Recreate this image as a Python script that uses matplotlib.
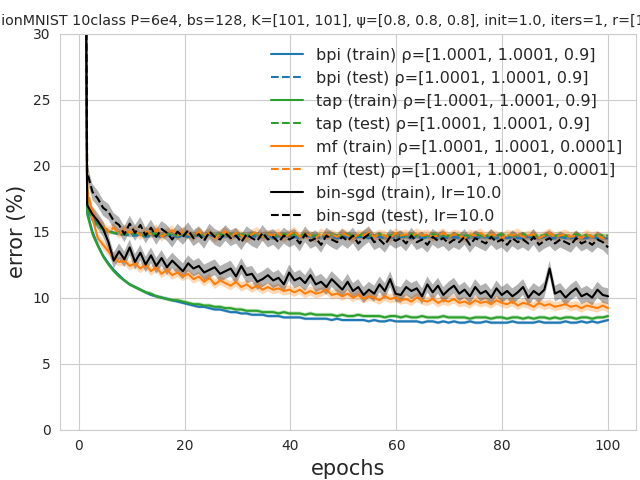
import numpy as np
import matplotlib
matplotlib.use("Agg")
import matplotlib.pyplot as plt
import seaborn as sns

# first logged point sits just right of 0, last one at epoch 100
epochs = np.linspace(0.6, 100, 100)

bpi_train = [90, 16.5, 15.0, 14.0, 13.2, 12.6, 12.1, 11.7, 11.3, 11.0,
             10.8, 10.6, 10.4, 10.2, 10.1, 10.0, 9.9, 9.8, 9.7, 9.6,
             9.5, 9.4, 9.3, 9.3, 9.2, 9.1, 9.1, 9.0, 8.9, 8.9,
             8.8, 8.8, 8.7, 8.7, 8.7, 8.6, 8.6, 8.6, 8.5, 8.5,
             8.5, 8.5, 8.4, 8.4, 8.4, 8.4, 8.4, 8.3, 8.4, 8.3,
             8.3, 8.3, 8.3, 8.3, 8.2, 8.3, 8.2, 8.2, 8.3, 8.2,
             8.2, 8.2, 8.2, 8.2, 8.1, 8.2, 8.2, 8.1, 8.2, 8.1,
             8.2, 8.1, 8.1, 8.2, 8.1, 8.1, 8.2, 8.1, 8.1, 8.1,
             8.1, 8.2, 8.1, 8.1, 8.1, 8.1, 8.2, 8.1, 8.1, 8.1,
             8.1, 8.2, 8.1, 8.1, 8.2, 8.1, 8.2, 8.1, 8.2, 8.3]
bpi_test = [90, 17.0, 16.0, 15.6, 15.3, 15.1, 14.9, 14.8, 14.8, 14.7,
            14.7, 14.8, 14.6, 14.7, 14.7, 14.6, 14.8, 14.7, 14.6, 14.7,
            14.6, 14.7, 14.7, 14.6, 14.8, 14.6, 14.7, 14.6, 14.7, 14.6,
            14.7, 14.6, 14.7, 14.6, 14.6, 14.7, 14.5, 14.6, 14.7, 14.6,
            14.6, 14.5, 14.7, 14.6, 14.6, 14.5, 14.7, 14.6, 14.5, 14.6,
            14.6, 14.5, 14.6, 14.6, 14.5, 14.7, 14.6, 14.5, 14.6, 14.5,
            14.6, 14.6, 14.5, 14.6, 14.5, 14.6, 14.6, 14.5, 14.6, 14.5,
            14.6, 14.5, 14.6, 14.5, 14.6, 14.5, 14.6, 14.5, 14.5, 14.6,
            14.5, 14.6, 14.5, 14.5, 14.6, 14.5, 14.5, 14.6, 14.5, 14.5,
            14.6, 14.5, 14.5, 14.6, 14.5, 14.5, 14.6, 14.5, 14.5, 14.5]
tap_train = [90, 16.3, 14.8, 13.9, 13.1, 12.5, 12.0, 11.6, 11.3, 11.0,
             10.8, 10.6, 10.4, 10.3, 10.1, 10.0, 9.9, 9.8, 9.8, 9.7,
             9.6, 9.5, 9.5, 9.4, 9.4, 9.3, 9.3, 9.2, 9.2, 9.1,
             9.1, 9.0, 9.0, 9.0, 8.9, 8.9, 8.9, 8.8, 8.9, 8.8,
             8.8, 8.8, 8.7, 8.8, 8.7, 8.7, 8.7, 8.7, 8.6, 8.7,
             8.6, 8.6, 8.7, 8.6, 8.6, 8.6, 8.6, 8.5, 8.6, 8.6,
             8.5, 8.6, 8.5, 8.5, 8.6, 8.5, 8.5, 8.5, 8.6, 8.5,
             8.5, 8.5, 8.5, 8.4, 8.5, 8.5, 8.5, 8.4, 8.5, 8.5,
             8.4, 8.5, 8.5, 8.4, 8.5, 8.4, 8.5, 8.5, 8.4, 8.5,
             8.4, 8.5, 8.5, 8.4, 8.5, 8.5, 8.4, 8.5, 8.5, 8.6]
tap_test = [90, 16.8, 15.9, 15.4, 15.2, 15.0, 14.9, 14.9, 14.8, 14.8,
            14.9, 14.8, 14.7, 14.9, 14.8, 14.7, 14.8, 14.8, 14.7, 14.8,
            14.8, 14.7, 14.8, 14.7, 14.9, 14.7, 14.8, 14.7, 14.8, 14.7,
            14.8, 14.7, 14.8, 14.8, 14.7, 14.8, 14.7, 14.7, 14.8, 14.7,
            14.8, 14.7, 14.8, 14.7, 14.7, 14.8, 14.7, 14.8, 14.7, 14.7,
            14.8, 14.7, 14.7, 14.8, 14.7, 14.7, 14.8, 14.7, 14.7, 14.8,
            14.7, 14.7, 14.8, 14.7, 14.7, 14.7, 14.8, 14.7, 14.7, 14.7,
            14.8, 14.7, 14.7, 14.7, 14.8, 14.7, 14.7, 14.7, 14.7, 14.8,
            14.7, 14.7, 14.7, 14.8, 14.7, 14.7, 14.7, 14.7, 14.8, 14.7,
            14.7, 14.7, 14.7, 14.8, 14.7, 14.7, 14.7, 14.7, 14.7, 14.7]
mf_train = [90, 18.0, 16.0, 14.5, 14.0, 13.5, 13.0, 12.7, 12.8, 12.4,
            12.6, 12.2, 12.5, 12.0, 12.3, 11.8, 12.1, 11.7, 11.9, 11.6,
            11.8, 11.4, 11.6, 11.2, 11.5, 11.0, 11.3, 11.1, 10.9, 11.2,
            10.8, 11.0, 10.7, 10.9, 10.6, 10.8, 10.6, 10.7, 10.5, 10.6,
            10.4, 10.6, 10.3, 10.5, 10.3, 10.4, 10.6, 10.2, 10.3, 10.1,
            10.3, 10.0, 10.2, 9.9, 10.1, 10.0, 9.8, 10.1, 9.9, 10.0,
            9.8, 9.9, 9.7, 10.0, 9.8, 9.7, 9.9, 9.6, 9.8, 9.7,
            9.9, 9.6, 9.7, 9.5, 9.8, 9.6, 9.7, 9.5, 9.8, 9.6,
            9.5, 9.7, 9.4, 9.6, 9.5, 9.3, 9.6, 9.4, 9.5, 9.3,
            9.4, 9.5, 9.3, 9.4, 9.2, 9.4, 9.3, 9.2, 9.4, 9.2]
mf_test = [90, 18.2, 16.5, 15.8, 15.4, 15.0, 15.3, 14.8, 15.2, 14.9,
           15.1, 14.7, 15.0, 14.8, 15.2, 14.6, 14.9, 15.1, 14.7, 15.0,
           14.8, 14.6, 15.0, 14.7, 14.9, 14.5, 14.8, 15.0, 14.6, 14.9,
           14.7, 14.5, 14.8, 15.0, 14.6, 14.8, 14.7, 14.9, 14.5, 14.8,
           15.0, 14.6, 14.8, 14.7, 14.5, 14.9, 14.7, 14.8, 14.6, 14.9,
           14.7, 14.5, 14.8, 14.7, 14.9, 14.6, 14.8, 14.7, 14.5, 14.9,
           14.7, 14.8, 14.6, 14.9, 14.7, 14.8, 14.6, 14.7, 14.9, 14.6,
           14.8, 14.7, 14.5, 14.8, 14.7, 14.9, 14.6, 14.8, 14.7, 14.5,
           14.8, 14.7, 14.9, 14.6, 14.7, 14.8, 14.5, 14.7, 14.9, 14.6,
           14.7, 14.8, 14.6, 14.7, 14.5, 14.8, 14.6, 14.7, 14.5, 14.4]
sgd_train = [90, 17.0, 16.3, 15.8, 15.2, 14.2, 12.8, 13.5, 12.9, 13.8,
             12.7, 13.4, 12.5, 13.2, 12.4, 13.0, 12.3, 12.8, 12.4, 12.0,
             12.6, 12.2, 12.4, 11.9, 12.1, 12.3, 11.8, 12.0, 12.2, 11.6,
             12.4, 11.7, 11.8, 11.2, 11.4, 11.7, 11.3, 11.5, 11.0, 11.9,
             11.3, 11.5, 11.1, 11.7, 11.0, 11.2, 10.8, 11.4, 11.0, 10.6,
             11.2, 10.5, 10.8, 10.2, 10.6, 10.3, 11.0, 10.5, 11.4, 10.3,
             10.2, 10.8, 10.5, 10.7, 10.1, 11.0, 10.4, 10.9, 10.2, 10.6,
             10.9, 10.3, 10.6, 10.1, 10.8, 10.3, 10.5, 10.0, 10.7, 10.2,
             10.5, 10.1, 10.4, 10.8, 10.0, 10.5, 10.2, 10.6, 12.2, 10.3,
             10.5, 10.0, 10.4, 10.7, 10.1, 10.3, 10.0, 10.6, 10.2, 10.1]
sgd_test = [90, 19.5, 18.0, 17.5, 16.8, 16.5, 15.8, 15.5, 14.8, 15.6,
            14.9, 15.5, 14.7, 15.3, 14.6, 15.2, 14.9, 14.4, 15.0, 14.6,
            15.1, 14.5, 14.8, 14.3, 15.0, 14.6, 14.4, 14.9, 14.5, 14.7,
            14.2, 14.8, 14.5, 14.3, 14.9, 14.4, 14.6, 14.2, 14.7, 14.4,
            14.6, 14.1, 14.8, 14.3, 14.5, 14.0, 14.7, 14.4, 14.2, 14.6,
            14.3, 14.7, 14.1, 14.5, 14.8, 14.2, 14.4, 14.0, 14.6, 14.3,
            14.5, 14.1, 14.7, 14.2, 14.4, 14.0, 14.6, 14.3, 14.5, 14.1,
            14.4, 14.2, 14.6, 14.0, 14.5, 14.3, 14.1, 14.6, 14.2, 14.4,
            14.0, 14.5, 14.2, 14.4, 14.1, 14.6, 14.0, 14.3, 14.5, 14.1,
            14.4, 14.2, 14.0, 14.5, 14.1, 14.3, 14.0, 14.4, 14.2, 13.8]

# band half-widths (std over runs, read roughly)
spread = {"bpi": 0.12, "tap": 0.15, "mf": 0.35, "sgd": 0.6}

series = [
    ("bpi (train) ρ=[1.0001, 1.0001, 0.9]", bpi_train, "tab:blue", "-", "bpi"),
    ("bpi (test) ρ=[1.0001, 1.0001, 0.9]", bpi_test, "tab:blue", "--", "bpi"),
    ("tap (train) ρ=[1.0001, 1.0001, 0.9]", tap_train, "tab:green", "-", "tap"),
    ("tap (test) ρ=[1.0001, 1.0001, 0.9]", tap_test, "tab:green", "--", "tap"),
    ("mf (train) ρ=[1.0001, 1.0001, 0.0001]", mf_train, "tab:orange", "-", "mf"),
    ("mf (test) ρ=[1.0001, 1.0001, 0.0001]", mf_test, "tab:orange", "--", "mf"),
    ("bin-sgd (train), lr=10.0", sgd_train, "black", "-", "sgd"),
    ("bin-sgd (test), lr=10.0", sgd_test, "black", "--", "sgd"),
]

sns.set_style("whitegrid")
fig, ax = plt.subplots(figsize=(6.4, 4.8), dpi=100)
for label, vals, color, ls, key in series:
    y = np.array(vals)
    ax.plot(epochs, y, color=color, linestyle=ls, label=label, lw=1.5)
    ax.fill_between(epochs, y - spread[key], y + spread[key], color=color, alpha=0.3, lw=0)

ax.set_xlim(-3.5, 105.3)
ax.set_ylim(0, 30)
ax.set_xlabel("epochs", fontsize=15)
ax.set_ylabel("error (%)", fontsize=15)
ax.set_title("FashionMNIST 10class P=6e4, bs=128, K=[101, 101], ψ=[0.8, 0.8, 0.8], init=1.0, iters=1, r=[1.0, 1.0, 1.0]",
             fontsize=10.3)
ax.legend(loc="upper right", fontsize=11.5, frameon=False)
fig.subplots_adjust(left=0.094, right=0.994, bottom=0.105, top=0.93)
fig.savefig("out.png")
